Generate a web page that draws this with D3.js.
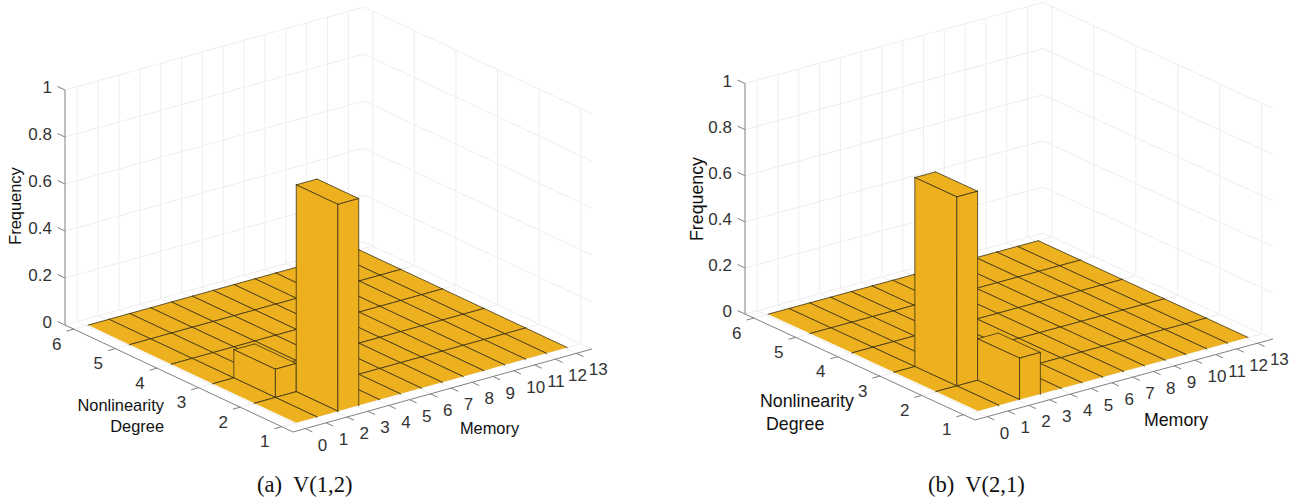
<!DOCTYPE html>
<html>
<head>
<meta charset="utf-8">
<script src="https://cdn.jsdelivr.net/npm/d3@7"></script>
<style>
  html, body { margin: 0; padding: 0; background: #fff; }
  svg { display: block; }
  text { font-family: "Liberation Sans", Arial, sans-serif; fill: #333; }
  .caption { font-family: "Liberation Serif", "Times New Roman", serif; fill: #111; white-space: pre; }
</style>
</head>
<body>
<svg id="chart_svg" width="1299" height="502"></svg>
<script>
const memory_ticks = [0, 1, 2, 3, 4, 5, 6, 7, 8, 9, 10, 11, 12, 13]
const degree_ticks = [1, 2, 3, 4, 5, 6]
const frequency_ticks = [0, 0.2, 0.4, 0.6, 0.8, 1]

// one row per nonlinearity degree (1..5), one column per memory bin (0..12)
const frequency_a = [
  [0, 0, 0.88, 0, 0, 0, 0, 0, 0, 0, 0, 0, 0],
  [0, 0.12, 0, 0, 0, 0, 0, 0, 0, 0, 0, 0, 0],
  [0, 0, 0, 0, 0, 0, 0, 0, 0, 0, 0, 0, 0],
  [0, 0, 0, 0, 0, 0, 0, 0, 0, 0, 0, 0, 0],
  [0, 0, 0, 0, 0, 0, 0, 0, 0, 0, 0, 0, 0],
]
const frequency_b = [
  [0, 0, 0.18, 0, 0, 0, 0, 0, 0, 0, 0, 0, 0],
  [0, 0.82, 0, 0, 0, 0, 0, 0, 0, 0, 0, 0, 0],
  [0, 0, 0, 0, 0, 0, 0, 0, 0, 0, 0, 0, 0],
  [0, 0, 0, 0, 0, 0, 0, 0, 0, 0, 0, 0, 0],
  [0, 0, 0, 0, 0, 0, 0, 0, 0, 0, 0, 0, 0],
]

const caption_a = "(a)  V(1,2)"
const caption_b = "(b)  V(2,1)"

/**
 * Axis limits of the 3d box, the bins are offset from the memory ticks.
 */
const x_lim = [-0.59, 13.75]
const y_lim = [0.73, 6.21]
const bin_offset = 0.1

const bar_color = "#EDB120"
const edge_color = "#3d3212"
const grid_color = "#eeeeee"
const axis_color = "#808080"

/**
 * Screen layout of each panel: the corners of the box floor and the height of z = 1.
 */
const panel_a = {
  values: frequency_a,
  caption: caption_a,
  caption_x: 257,
  front: [293, 432],
  right: [592, 349],
  left: [65, 325],
  z_height: 235,
  label_size: 16.4,
  frequency_label: [15, 206],
  degree_label: { x: 164, anchor: "end", lines: [405.5, 426] },
  memory_label: [489.5, 428],
}
const panel_b = {
  values: frequency_b,
  caption: caption_b,
  caption_x: 928,
  front: [975, 420],
  right: [1273, 339],
  left: [745, 314],
  z_height: 230.5,
  label_size: 17.8,
  frequency_label: [697, 199],
  degree_label: { x: 760, anchor: "start", lines: [401, 424] },
  memory_label: [1176, 419.5],
}

const svg = d3.select("#chart_svg")

function draw_panel(panel) {
  const g = svg.append("g")

  /**
   * Scales from data values to screen offsets along the three box edges.
   */
  const x_scale = d3
    .scaleLinear()
    .domain(x_lim)
    .range([[0, 0], [panel.right[0] - panel.front[0], panel.right[1] - panel.front[1]]])
  const y_scale = d3
    .scaleLinear()
    .domain(y_lim)
    .range([[0, 0], [panel.left[0] - panel.front[0], panel.left[1] - panel.front[1]]])
  const z_scale = d3.scaleLinear().domain([0, 1]).range([0, -panel.z_height])

  function project(x, y, z) {
    const px = x_scale(x)
    const py = y_scale(y)
    return [panel.front[0] + px[0] + py[0], panel.front[1] + px[1] + py[1] + z_scale(z)]
  }

  const line = d3.line()

  /**
   * Grid lines on the floor and on the two back walls.
   */
  let grid_lines = []
  memory_ticks.forEach((m) => {
    grid_lines.push([project(m, y_lim[0], 0), project(m, y_lim[1], 0)])
    grid_lines.push([project(m, y_lim[1], 0), project(m, y_lim[1], 1)])
  })
  degree_ticks.forEach((d) => {
    grid_lines.push([project(x_lim[0], d, 0), project(x_lim[1], d, 0)])
    grid_lines.push([project(x_lim[1], d, 0), project(x_lim[1], d, 1)])
  })
  frequency_ticks.forEach((f) => {
    grid_lines.push([
      project(x_lim[0], y_lim[1], f),
      project(x_lim[1], y_lim[1], f),
      project(x_lim[1], y_lim[0], f),
    ])
  })

  g.append("g")
    .selectAll("path")
    .data(grid_lines)
    .enter()
    .append("path")
    .attr("d", (d) => line(d))
    .attr("fill", "none")
    .attr("stroke", grid_color)
    .attr("stroke-width", 1)

  /**
   * Axis lines and tick marks.
   */
  let axis_lines = [
    [project(x_lim[0], y_lim[1], 0), project(x_lim[0], y_lim[1], 1)],
    [project(x_lim[0], y_lim[1], 0), project(x_lim[0], y_lim[0], 0), project(x_lim[1], y_lim[0], 0)],
  ]
  frequency_ticks.forEach((f) => {
    axis_lines.push([project(x_lim[0], y_lim[1], f), project(x_lim[0], y_lim[1] + 0.18, f)])
  })
  degree_ticks.forEach((d) => {
    axis_lines.push([project(x_lim[0], d, 0), project(x_lim[0] - 0.35, d, 0)])
  })
  memory_ticks.forEach((m) => {
    axis_lines.push([project(m, y_lim[0], 0), project(m, y_lim[0] - 0.17, 0)])
  })

  g.append("g")
    .selectAll("path")
    .data(axis_lines)
    .enter()
    .append("path")
    .attr("d", (d) => line(d))
    .attr("fill", "none")
    .attr("stroke", axis_color)
    .attr("stroke-width", 1)

  /**
   * Bars, painted from the far corner to the front corner.
   */
  const first_x = memory_ticks[0] + bin_offset
  const first_y = degree_ticks[0]

  let cells = []
  panel.values.forEach((row, i) => {
    row.forEach((value, j) => {
      cells.push({
        x0: memory_ticks[j] + bin_offset,
        x1: memory_ticks[j + 1] + bin_offset,
        y0: degree_ticks[i],
        y1: degree_ticks[i + 1],
        value: value,
      })
    })
  })
  cells.sort((a, b) => b.y0 - a.y0 || b.x0 - a.x0)

  const bars = g.append("g").selectAll("g").data(cells).enter().append("g")

  // draws one face, the outline is left open on edges the skip function names
  function add_face(corners, skip, only) {
    const faces = bars.filter(only)
    faces
      .append("path")
      .attr("d", (d) => line(corners(d)) + "Z")
      .attr("fill", bar_color)
    faces
      .append("path")
      .attr("d", (d) => {
        const c = corners(d)
        return c
          .map((p, i) => (skip(d, i) ? "" : line([p, c[(i + 1) % c.length]])))
          .join("")
      })
      .attr("fill", "none")
      .attr("stroke", edge_color)
      .attr("stroke-width", 0.8)
      .attr("stroke-linecap", "round")
  }

  // top, the floor has no dark line along its two near edges
  add_face(
    (d) => [
      project(d.x0, d.y0, d.value),
      project(d.x1, d.y0, d.value),
      project(d.x1, d.y1, d.value),
      project(d.x0, d.y1, d.value),
    ],
    (d, i) => d.value === 0 && ((i === 0 && d.y0 === first_y) || (i === 3 && d.x0 === first_x)),
    () => true
  )
  // side facing the nonlinearity axis
  add_face(
    (d) => [
      project(d.x0, d.y0, 0),
      project(d.x0, d.y1, 0),
      project(d.x0, d.y1, d.value),
      project(d.x0, d.y0, d.value),
    ],
    (d, i) => i === 0 && d.x0 === first_x,
    (d) => d.value > 0
  )
  // side facing the memory axis
  add_face(
    (d) => [
      project(d.x0, d.y0, 0),
      project(d.x1, d.y0, 0),
      project(d.x1, d.y0, d.value),
      project(d.x0, d.y0, d.value),
    ],
    (d, i) => i === 0 && d.y0 === first_y,
    (d) => d.value > 0
  )

  /**
   * Tick labels.
   */
  const z_anchor = project(x_lim[0], y_lim[1], 0)
  g.append("g")
    .selectAll("text")
    .data(frequency_ticks)
    .enter()
    .append("text")
    .attr("x", z_anchor[0] - 13)
    .attr("y", (d) => project(x_lim[0], y_lim[1], d)[1] - 3)
    .attr("dy", "0.36em")
    .attr("text-anchor", "end")
    .attr("font-size", 17)
    .text((d) => d)

  g.append("g")
    .selectAll("text")
    .data(degree_ticks)
    .enter()
    .append("text")
    .attr("x", (d) => project(x_lim[0], d, 0)[0] - 17)
    .attr("y", (d) => project(x_lim[0], d, 0)[1] + 14.5)
    .attr("dy", "0.36em")
    .attr("text-anchor", "middle")
    .attr("font-size", 17)
    .text((d) => d)

  g.append("g")
    .selectAll("text")
    .data(memory_ticks)
    .enter()
    .append("text")
    .attr("x", (d) => project(d, y_lim[0], 0)[0] + 12.5)
    .attr("y", (d) => project(d, y_lim[0], 0)[1] + 16)
    .attr("dy", "0.36em")
    .attr("text-anchor", "start")
    .attr("font-size", 17)
    .text((d) => d)

  /**
   * Axis labels and caption.
   */
  g.append("text")
    .attr("transform", `translate(${panel.frequency_label[0]},${panel.frequency_label[1]}) rotate(-90)`)
    .attr("dy", "0.36em")
    .attr("text-anchor", "middle")
    .attr("font-size", panel.label_size)
    .style("fill", "#111")
    .text("Frequency")

  g.append("text")
    .attr("x", panel.degree_label.x)
    .attr("y", panel.degree_label.lines[0])
    .attr("dy", "0.36em")
    .attr("text-anchor", panel.degree_label.anchor)
    .attr("font-size", panel.label_size)
    .style("fill", "#111")
    .text("Nonlinearity")

  g.append("text")
    .attr("x", panel.degree_label.x + (panel.degree_label.anchor === "start" ? 6 : 0))
    .attr("y", panel.degree_label.lines[1])
    .attr("dy", "0.36em")
    .attr("text-anchor", panel.degree_label.anchor)
    .attr("font-size", panel.label_size)
    .style("fill", "#111")
    .text("Degree")

  g.append("text")
    .attr("x", panel.memory_label[0])
    .attr("y", panel.memory_label[1])
    .attr("dy", "0.36em")
    .attr("text-anchor", "middle")
    .attr("font-size", panel.label_size)
    .style("fill", "#111")
    .text("Memory")

  g.append("text")
    .attr("class", "caption")
    .attr("x", panel.caption_x)
    .attr("y", 492)
    .attr("font-size", 22.6)
    .text(panel.caption)
}

draw_panel(panel_a)
draw_panel(panel_b)
</script>
</body>
</html>
